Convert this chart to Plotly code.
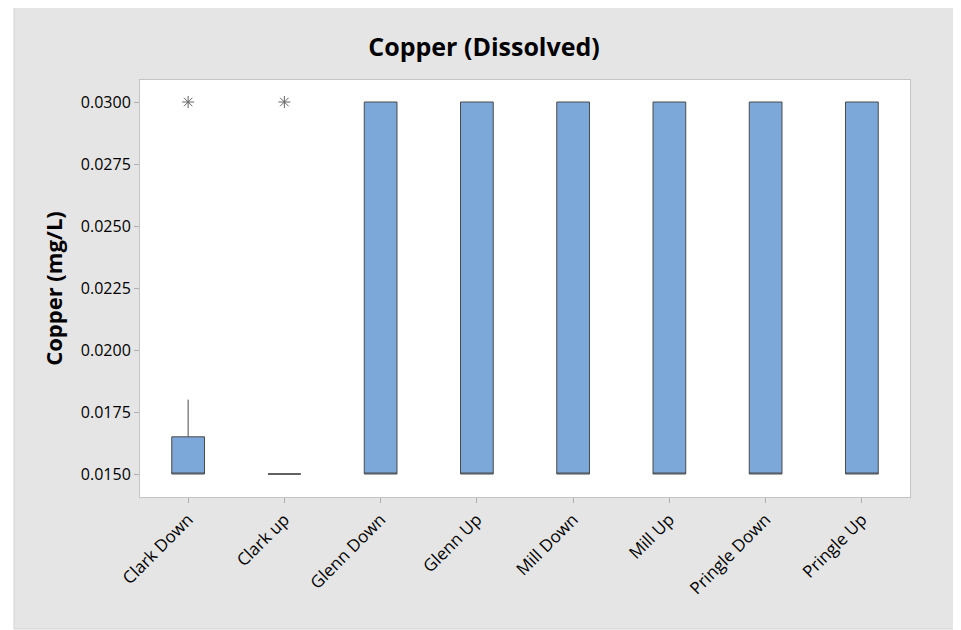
import plotly.graph_objects as go

# sampling sites and box statistics (mg/L)
sites = ["Clark Down", "Clark up", "Glenn Down", "Glenn Up",
         "Mill Down", "Mill Up", "Pringle Down", "Pringle Up"]
q1 = [0.015, 0.015, 0.015, 0.015, 0.015, 0.015, 0.015, 0.015]
median = [0.015, 0.015, 0.015, 0.015, 0.015, 0.015, 0.015, 0.015]
q3 = [0.0165, 0.015, 0.030, 0.030, 0.030, 0.030, 0.030, 0.030]
lower = [0.015, 0.015, 0.015, 0.015, 0.015, 0.015, 0.015, 0.015]
upper = [0.018, 0.015, 0.030, 0.030, 0.030, 0.030, 0.030, 0.030]

outlier_sites = ["Clark Down", "Clark up"]
outlier_vals = [0.030, 0.030]

yticks = [0.0150, 0.0175, 0.0200, 0.0225, 0.0250, 0.0275, 0.0300]

FONT = "Open Sans"

fig = go.Figure()
fig.add_trace(go.Box(
    x=sites, q1=q1, median=median, q3=q3,
    lowerfence=lower, upperfence=upper,
    width=0.34, whiskerwidth=0,
    fillcolor="#7ca7d9",
    line=dict(color="#4a4a4a", width=1),
    boxpoints=False, showlegend=False, hoverinfo="skip",
))
fig.add_trace(go.Scatter(
    x=outlier_sites, y=outlier_vals, mode="markers",
    marker=dict(symbol="asterisk-open", size=10, color="#666666",
                line=dict(color="#666666", width=1)),
    showlegend=False, hoverinfo="skip",
))

# grey panel and white plot area (page has an 8px body margin)
fig.add_shape(type="rect", xref="paper", yref="paper", layer="below",
              x0=-0.1636, x1=1.0571, y0=-0.3165, y1=1.1823,
              fillcolor="#e5e5e5", line=dict(color="#d2d2d2", width=1))
fig.add_shape(type="rect", xref="paper", yref="paper", layer="below",
              x0=0, x1=1, y0=0, y1=1,
              fillcolor="white", line=dict(width=0))

fig.update_layout(
    width=953, height=622,
    margin=dict(l=132, r=51, t=72, b=133, autoexpand=False),
    paper_bgcolor="white", plot_bgcolor="white",
    font=dict(family=FONT, color="black"),
    title=dict(text="<b>Copper (Dissolved)</b>", xref="container",
               x=0.4995, y=0.937, xanchor="center", yanchor="middle",
               font=dict(size=25, family=FONT)),
)
fig.update_xaxes(
    type="category", range=[-0.5, 7.5], categoryorder="array",
    categoryarray=sites, tickangle=-45, automargin=False,
    ticks="outside", ticklen=5, tickcolor="#b0b0b0",
    showline=True, mirror=True, linecolor="#c4c4c4", linewidth=1,
    showgrid=False, zeroline=False,
    tickfont=dict(size=17, family=FONT),
)
fig.update_yaxes(
    range=[0.014073, 0.030887], tickvals=yticks, tickformat=".4f",
    automargin=False,
    ticks="outside", ticklen=5, tickcolor="#b0b0b0",
    showline=True, mirror=True, linecolor="#c4c4c4", linewidth=1,
    showgrid=False, zeroline=False,
    tickfont=dict(size=16, family=FONT),
    title=dict(text="<b>Copper (mg/L)</b>", standoff=12,
               font=dict(size=22, family=FONT)),
)

fig.write_html("out.html")
